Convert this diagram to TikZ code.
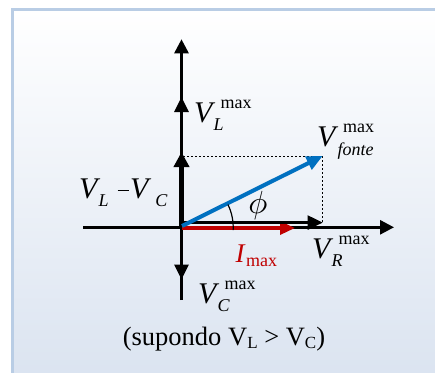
\documentclass[tikz,border=0pt]{standalone}
\usepackage{fontspec}
\setmainfont{Liberation Serif}
\usetikzlibrary{arrows.meta}
\definecolor{panelborder}{RGB}{185,205,229}
\definecolor{panelbottom}{RGB}{218,227,240}
\definecolor{phasorblue}{RGB}{0,112,192}
\definecolor{phasorred}{RGB}{192,0,0}
\newcommand{\scr}{\fontsize{18}{18}\selectfont}
\newcommand{\bigfnt}{\fontsize{30}{30}\selectfont}
\newcommand{\phasorlab}[2]{\textit{V}\kern-1.6pt\rlap{\raisebox{-8pt}{\scr\textit{#1}}}\kern7pt\raisebox{14pt}{\scr #2}}
\tikzset{
  lab/.style={inner sep=0pt, outer sep=0pt, anchor=base west, font=\bigfnt},
  axis/.style={line width=2.7pt, -{Triangle[width=14pt,length=14pt]}},
  vec/.style={line width=2.7pt, -{Triangle[width=14pt,length=15pt]}},
  guide/.style={line width=0.8pt, dash pattern=on 2pt off 2pt},
}
\begin{document}
\begin{tikzpicture}[x=1pt,y=-1pt]
\useasboundingbox (0,0) rectangle (435,372);
% panel
\shade[top color=white, bottom color=panelbottom] (12.5,9.5) rectangle (445,385);
\draw[panelborder, line width=3pt] (12.5,385) -- (12.5,9.5) -- (445,9.5);

% coordinates
\coordinate (O) at (181.5,227.3);
\coordinate (xl) at (83,227.3);
\coordinate (xr) at (394,227.3);
\coordinate (yb) at (181.5,300);
\coordinate (yt) at (181.5,39.3);
\coordinate (VLt) at (181.5,97);
\coordinate (VCt) at (181.5,279.5);
\coordinate (VLCt) at (181.5,152);
\coordinate (F) at (322.7,156);
\coordinate (Fy) at (183,156);
\coordinate (VRo) at (181.5,222.6);
\coordinate (VRt) at (322.7,222.6);
\coordinate (Io) at (181.5,228);
\coordinate (It) at (295,228);
\coordinate (Bo) at (182,226);

% axes
\draw[axis] (xl) -- (xr);
\draw[axis] (yb) -- (yt);
% vertical phasors
\draw[vec] (O) -- (VLt);
\draw[vec] (O) -- (VCt);
\draw[line width=5pt, -{Triangle[width=15pt,length=15pt]}] (O) -- (VLCt);
% guides
\draw[guide] (Fy) -- (F) -- (VRt);
% current
\draw[phasorred, line width=3.3pt, -{Triangle[width=13pt,length=15pt]}] (Io) -- (It);
% V_R
\draw[vec, line width=2.5pt] (VRo) -- (VRt);
% source
\draw[phasorblue, line width=4pt, -{Triangle[width=14pt,length=16pt]}] (Bo) -- (F);
% angle
\draw[line width=1.2pt] (O) ++(3:51.7) arc[start angle=3, end angle=-26, radius=51.7];

% labels
\node[lab] (lVL) at (194,122) {\phasorlab{L}{max}};
\node[lab] (lVF) at (317,146.7) {\textit{V}\kern-0.5pt\rlap{\raisebox{-9pt}{\scr\textit{fonte}}}\kern5.5pt\raisebox{14pt}{\scr max}};
\node[lab] (lVR) at (312,258.3) {\phasorlab{R}{max}};
\node[lab] (lVC) at (198,303) {\phasorlab{C}{max}};
\node[lab] (lVLC) at (79,198.3) {\textit{V}\kern-1.6pt\raisebox{-8pt}{\scr\textit{L}}\kern9pt\rule[7pt]{11.5pt}{1.3pt}\kern1pt\textit{V}\kern4pt\raisebox{-8pt}{\scr\textit{C}}};
\node[lab, text=phasorred, font=\fontsize{27}{27}\selectfont] (lI) at (235.5,262.7) {\textit{I}\kern0.5pt\raisebox{-4pt}{\scr max}};
\node[inner sep=0pt] (lphi) at (258,205.5) {\scalebox{3.2}{$\phi$}};
\node[inner sep=0pt, anchor=base, font=\fontsize{26.5}{26.5}\selectfont] (cap) at (224,345.7) {(supondo V\raisebox{-3pt}{\fontsize{17}{17}\selectfont L} > V\raisebox{-3pt}{\fontsize{17}{17}\selectfont C})};
\end{tikzpicture}
\end{document}
